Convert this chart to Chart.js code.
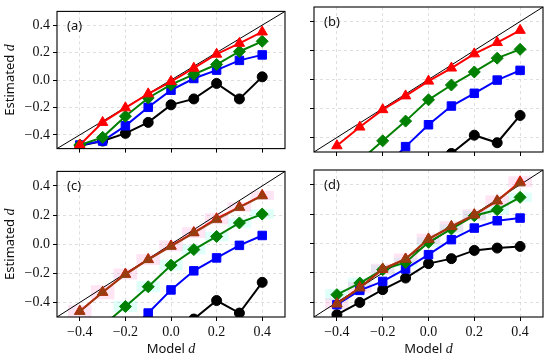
<!DOCTYPE html>
<html>
<head>
<meta charset="utf-8">
<script src="https://cdn.jsdelivr.net/npm/chart.js@4/dist/chart.umd.min.js"></script>
<style>
  body { margin: 0; background: #fff; }
  #fig { position: relative; width: 550px; height: 360px; }
  canvas { position: absolute; }
</style>
</head>
<body>
<div id="fig">
  <canvas id="pa" width="292" height="160" style="left:0;top:0"></canvas>
  <canvas id="pb" width="258" height="160" style="left:292px;top:0"></canvas>
  <canvas id="pc" width="292" height="200" style="left:0;top:160px"></canvas>
  <canvas id="pd" width="258" height="200" style="left:292px;top:160px"></canvas>
</div>
<script>
// valores
const modelD = [-0.4, -0.3, -0.2, -0.1, 0.0, 0.1, 0.2, 0.3, 0.4];
const limites = [-0.5, 0.5];
const tickVals = [-0.4, -0.2, 0.0, 0.2, 0.4];
const tickLabels = ["\u22120.4", "\u22120.2", "0.0", "0.2", "0.4"];

// painel (a)
const aRed   = [-0.474, -0.309, -0.203, -0.101, -0.011, 0.086, 0.188, 0.267, 0.350];
const aGreen = [-0.474, -0.418, -0.264, -0.131, -0.034, 0.041, 0.113, 0.208, 0.282];
const aBlue  = [-0.474, -0.445, -0.334, -0.199, -0.074, 0.011, 0.072, 0.143, 0.183];
const aBlack = [-0.480, -0.445, -0.389, -0.309, -0.181, -0.138, -0.025, -0.138, 0.023];

// painel (b)
const bRed   = [-0.457, -0.328, -0.208, -0.113, -0.011, 0.079, 0.177, 0.255, 0.339];
const bGreen = [-0.700, -0.560, -0.423, -0.287, -0.140, -0.038, 0.052, 0.147, 0.208];
const bBlue  = [-0.880, -0.750, -0.620, -0.463, -0.312, -0.183, -0.095, -0.004, 0.063];
const bBlack = [-0.950, -0.880, -0.800, -0.700, -0.620, -0.510, -0.384, -0.436, -0.248];

// painel (c)
const cRed   = [-0.460, -0.330, -0.205, -0.105, -0.012, 0.080, 0.175, 0.255, 0.335];
const cBrown = [-0.462, -0.330, -0.208, -0.106, -0.015, 0.078, 0.169, 0.253, 0.332];
const cGreen = [-0.700, -0.560, -0.428, -0.292, -0.144, -0.037, 0.053, 0.146, 0.207];
const cBlue  = [-0.880, -0.750, -0.620, -0.473, -0.314, -0.183, -0.094, -0.008, 0.060];
const cBlack = [-0.950, -0.880, -0.800, -0.700, -0.620, -0.514, -0.387, -0.473, -0.262];
const cRedErr   = [0.040, 0.045, 0.035, 0.035, 0.035, 0.035, 0.035, 0.030, 0.030];
const cGreenErr = [0.040, 0.040, 0.035, 0.035, 0.035, 0.030, 0.030, 0.030, 0.030];

// painel (d)
const dRed   = [-0.410, -0.300, -0.175, -0.105, 0.030, 0.115, 0.195, 0.290, 0.420];
const dBrown = [-0.412, -0.303, -0.173, -0.106, 0.031, 0.116, 0.196, 0.291, 0.412];
const dGreen = [-0.348, -0.269, -0.178, -0.129, 0.008, 0.099, 0.189, 0.230, 0.314];
const dBlue  = [-0.416, -0.319, -0.258, -0.173, -0.076, 0.026, 0.105, 0.155, 0.173];
const dBlack = [-0.484, -0.401, -0.314, -0.235, -0.137, -0.103, -0.047, -0.031, -0.020];
const dRedErr   = [0.035, 0.035, 0.035, 0.035, 0.035, 0.035, 0.035, 0.035, 0.035];
const dGreenErr = [0.035, 0.035, 0.030, 0.030, 0.030, 0.030, 0.030, 0.030, 0.030];

const fonteTick = { family: "'Liberation Serif', serif", size: 14 };

function serie(valores, cor, estilo, raio, ordem) {
  return {
    type: "line",
    data: modelD.map((x, i) => ({ x: x, y: valores[i] })),
    borderColor: cor,
    backgroundColor: cor,
    borderWidth: 2,
    pointStyle: estilo,
    pointRadius: raio,
    pointBorderWidth: 1,
    order: ordem,
    clip: 0
  };
}

function faixa(valores, erros, cor) {
  return {
    type: "bar",
    data: modelD.map((x, i) => ({ x: x, y: [valores[i] - erros[i], valores[i] + erros[i]] })),
    backgroundColor: cor,
    borderWidth: 0,
    barPercentage: 1,
    categoryPercentage: 1,
    grouped: false,
    order: 20,
    clip: 0
  };
}

function diagonal() {
  return {
    type: "line",
    data: limites.map(v => ({ x: v, y: v })),
    borderColor: "#000",
    borderWidth: 1,
    pointRadius: 0,
    order: 10,
    clip: 0
  };
}

function escalas(mostraX, mostraY, larguraY) {
  const grade = { color: "#d6d6d6", lineWidth: 0.8, tickColor: "#000", tickLength: 4, tickWidth: 1, tickBorderDash: [] };
  return {
    x: {
      type: "linear", min: -0.5, max: 0.5, offset: false,
      afterBuildTicks: s => { s.ticks = tickVals.map(v => ({ value: v })); },
      afterFit: s => { s.height = mostraX ? 43 : 8; },
      ticks: { display: mostraX, autoSkip: false, maxRotation: 0, padding: 3, color: "#111", font: fonteTick,
               callback: (v, i) => tickLabels[i] },
      grid: Object.assign({ offset: false }, grade),
      border: { display: false, dash: [3, 3] }
    },
    y: {
      type: "linear", min: -0.5, max: 0.5,
      afterBuildTicks: s => { s.ticks = tickVals.map(v => ({ value: v })); },
      afterFit: s => { s.width = larguraY; },
      ticks: { display: mostraY, autoSkip: false, padding: 3, color: "#111", font: fonteTick,
               callback: (v, i) => tickLabels[i] },
      grid: grade,
      border: { display: false, dash: [3, 3] }
    }
  };
}

// moldura + textos (rótulo do painel e títulos dos eixos com d em itálico)
const moldura = {
  id: "moldura",
  afterDatasetsDraw(chart, args, opts) {
    const { ctx, chartArea: a } = chart;
    ctx.save();
    ctx.strokeStyle = "#000";
    ctx.lineWidth = 1.1;
    ctx.strokeRect(a.left, a.top, a.right - a.left, a.bottom - a.top);

    ctx.fillStyle = "#111";
    ctx.textBaseline = "middle";
    ctx.textAlign = "left";
    ctx.font = "13px 'Noto Sans'";
    ctx.fillText(opts.rotulo, a.left + 10, a.top + 15);

    const escreve = (texto, cx, cy) => {
      ctx.font = "13px 'Noto Sans'";
      const w1 = ctx.measureText(texto + " ").width;
      ctx.font = "italic 14px 'Liberation Serif'";
      const w2 = ctx.measureText("d").width;
      let x0 = cx - (w1 + w2) / 2;
      ctx.font = "13px 'Noto Sans'";
      ctx.fillText(texto + " ", x0, cy);
      ctx.font = "italic 14px 'Liberation Serif'";
      ctx.fillText("d", x0 + w1, cy);
    };
    if (opts.tituloY) {
      ctx.save();
      ctx.translate(10, (a.top + a.bottom) / 2);
      ctx.rotate(-Math.PI / 2);
      escreve("Estimated", 0, 0);
      ctx.restore();
    }
    if (opts.tituloX) {
      escreve("Model", (a.left + a.right) / 2, a.bottom + 32);
    }
    ctx.restore();
  }
};

function painel(id, datasets, rotulo, mostraX, mostraY, larguraY, pad) {
  new Chart(document.getElementById(id), {
    type: "line",
    data: { datasets: datasets },
    options: {
      responsive: false,
      animation: false,
      devicePixelRatio: 1,
      layout: { padding: pad },
      scales: escalas(mostraX, mostraY, larguraY),
      plugins: {
        legend: { display: false },
        tooltip: { enabled: false },
        moldura: { rotulo: rotulo, tituloY: mostraY, tituloX: mostraX }
      }
    },
    plugins: [moldura]
  });
}

const rosa = "rgba(255, 120, 200, 0.2)";
const ciano = "rgba(80, 255, 220, 0.18)";
const marrom = "rgba(139, 69, 19, 0.8)";

painel("pa", [
  diagonal(),
  serie(aBlack, "#000", "circle", 5, 4),
  serie(aBlue, "#0000ff", "rect", 6, 3),
  serie(aGreen, "#008000", "rectRot", 6, 2),
  serie(aRed, "#ff0000", "triangle", 6, 1)
], "(a)", false, true, 57, { top: 5, right: 3, left: 0, bottom: 0 });

painel("pb", [
  diagonal(),
  serie(bBlack, "#000", "circle", 5, 4),
  serie(bBlue, "#0000ff", "rect", 6, 3),
  serie(bGreen, "#008000", "rectRot", 6, 2),
  serie(bRed, "#ff0000", "triangle", 6, 1)
], "(b)", false, false, 22, { top: 5, right: 5, left: 0, bottom: 0 });

painel("pc", [
  faixa(cRed, cRedErr, rosa),
  faixa(cGreen, cGreenErr, ciano),
  diagonal(),
  serie(cBlack, "#000", "circle", 5, 4),
  serie(cBlue, "#0000ff", "rect", 6, 3),
  serie(cGreen, "#008000", "rectRot", 6, 2),
  serie(cRed, "#ff0000", "triangle", 6, 1),
  serie(cBrown, marrom, "triangle", 6, 0)
], "(c)", true, true, 57, { top: 10, right: 3, left: 0, bottom: 0 });

painel("pd", [
  faixa(dRed, dRedErr, rosa),
  faixa(dGreen, dGreenErr, ciano),
  diagonal(),
  serie(dBlack, "#000", "circle", 5, 4),
  serie(dBlue, "#0000ff", "rect", 6, 3),
  serie(dGreen, "#008000", "rectRot", 6, 2),
  serie(dRed, "#ff0000", "triangle", 6, 1),
  serie(dBrown, marrom, "triangle", 6, 0)
], "(d)", true, false, 22, { top: 10, right: 5, left: 0, bottom: 0 });
</script>
</body>
</html>
